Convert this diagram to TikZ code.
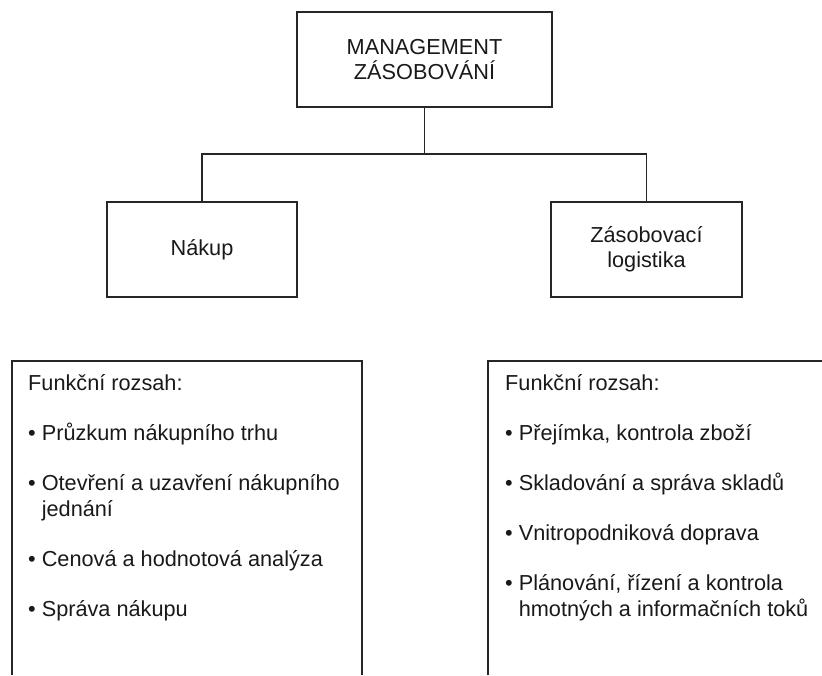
\documentclass[tikz,border=0pt]{standalone}
\usepackage{fontspec}
\setmainfont{Liberation Sans}
\begin{document}
\begin{tikzpicture}[x=1pt,y=-1pt,
  line/.style={draw=black!85, line width=1.3pt},
  box/.style={line, rectangle, inner sep=0pt, align=center, text=black!90,
    font=\fontsize{21.7}{25}\selectfont},
  txt/.style={inner sep=0pt, anchor=base west, text=black!90,
    font=\fontsize{21.7}{26}\selectfont}]
\useasboundingbox (0,0) rectangle (822,675);
% top level
\node[box, minimum width=255pt, minimum height=95pt] (top) at (424.5,59.5)
  {MANAGEMENT\\ZÁSOBOVÁNÍ};
\node[box, minimum width=190pt, minimum height=95pt] (nak) at (202,249.5) {Nákup};
\node[box, minimum width=191pt, minimum height=95pt] (log) at (646.5,249.5)
  {Zásobovací\\logistika};
\coordinate (bus) at (424.5,154);
\draw[line] (top.south) -- (bus);
\draw[line] (nak.north) |- (bus) -| (log.north);
% lower boxes (open at the bottom / right)
\draw[line] (12,675) -- (12,361) -- (362,361) -- (362,675);
\draw[line] (488,675) -- (488,361) -- (822,361);
% left list
\node[txt] (l0) at (28,390) {Funkční rozsah:};
\node[txt] (l1) at (28,440) {• Průzkum nákupního trhu};
\node[txt] (l2) at (28,490) {• Otevření a uzavření nákupního};
\node[txt] (l2b) at (28,516) {\hphantom{• }jednání};
\node[txt] (l3) at (28,566) {• Cenová a hodnotová analýza};
\node[txt] (l4) at (28,616) {• Správa nákupu};
% right list
\node[txt] (r0) at (505,390) {Funkční rozsah:};
\node[txt] (r1) at (505,440) {• Přejímka, kontrola zboží};
\node[txt] (r2) at (505,490) {• Skladování a správa skladů};
\node[txt] (r3) at (505,540) {• Vnitropodniková doprava};
\node[txt] (r4) at (505,590) {• Plánování, řízení a kontrola};
\node[txt] (r4b) at (505,616) {\hphantom{• }hmotných a informačních toků};
\end{tikzpicture}
\end{document}
